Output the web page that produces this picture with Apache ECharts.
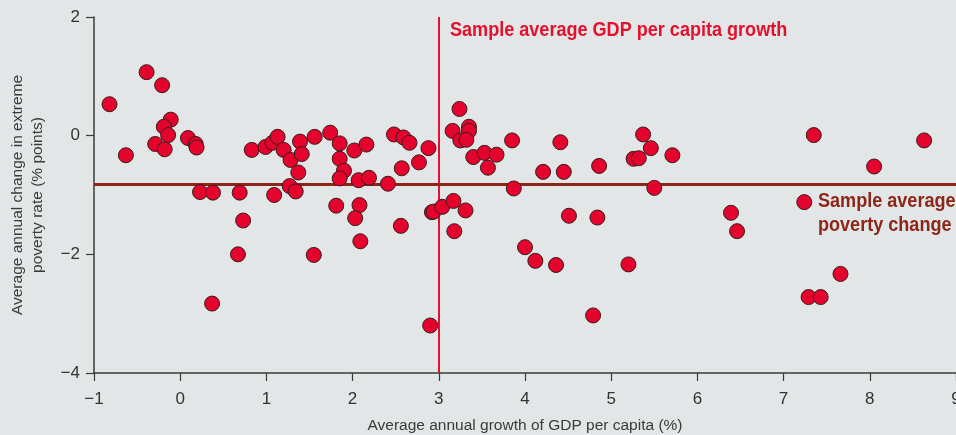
<!DOCTYPE html>
<html>
<head>
<meta charset="utf-8">
<script src="https://cdn.jsdelivr.net/npm/echarts@6/dist/echarts.min.js"></script>
<style>
  html, body { margin: 0; padding: 0; background: #e2e6e7; }
  #chart { width: 956px; height: 435px; }
</style>
</head>
<body>
<div id="chart"></div>
<script>
// Average annual GDP per capita growth (%) for each country episode
const growth = [
  -0.82, -0.63, -0.39, -0.21, -0.11, -0.19, -0.14, -0.29, -0.18, 0.09,
  0.18, 0.19, 0.23, 0.38, 0.69, 0.73, 0.67, 0.37, 0.83, 0.99,
  1.07, 1.13, 1.20, 1.28, 1.39, 1.41, 1.37, 1.27, 1.34, 1.09,
  1.56, 1.55, 1.74, 1.85, 1.85, 1.90, 1.85, 2.02, 2.16, 2.07,
  2.19, 2.41, 1.81, 2.08, 2.03, 2.09, 2.48, 2.59, 2.66, 2.57,
  2.77, 2.88, 2.56, 2.90, 2.92, 2.94, 3.04, 3.17, 3.18, 3.31,
  3.24, 3.16, 3.35, 3.35, 3.25, 3.32, 3.40, 3.53, 3.67, 3.57,
  3.85, 3.87, 4.00, 4.12, 4.36, 4.21, 4.41, 4.45, 4.51, 4.84,
  4.79, 4.86, 5.20, 5.37, 5.46, 5.26, 5.32, 5.71, 5.50, 6.39,
  6.46, 7.35, 8.63, 8.05, 7.24, 7.66, 7.29, 7.43
];

// Average annual change in the extreme poverty rate (% points), same order
const povertyChange = [
  0.53, -0.33, 1.07, 0.85, 0.27, 0.15, 0.01, -0.14, -0.23, -0.04,
  -0.14, -0.20, -0.95, -0.96, -0.96, -1.43, -2.00, -2.83, -0.24, -0.19,
  -0.12, -0.02, -0.24, -0.41, -0.10, -0.31, -0.62, -0.85, -0.94, -1.00,
  -0.02, -2.01, 0.05, -0.13, -0.39, -0.59, -0.72, -0.25, -0.15, -0.75,
  -0.71, -0.81, -1.18, -1.17, -1.39, -1.78, 0.02, -0.03, -0.12, -0.55,
  -0.45, -0.21, -1.52, -3.20, -1.29, -1.28, -1.20, -1.10, -1.61, -1.26,
  0.45, 0.08, 0.15, 0.08, -0.08, -0.07, -0.36, -0.29, -0.32, -0.54,
  -0.08, -0.89, -1.88, -2.11, -2.18, -0.61, -0.11, -0.61, -1.35, -1.38,
  -3.03, -0.51, -2.17, 0.02, -0.21, -0.39, -0.38, -0.33, -0.88, -1.30,
  -1.61, 0.01, -0.08, -0.52, -1.12, -2.33, -2.72, -2.72
];

// Sample averages drawn as reference lines
const avgGrowth = 3.0;
const avgPovertyChange = -0.82;

const xTicks = { min: -1, max: 9, interval: 1 };
const yTicks = { min: -4, max: 2, interval: 2 };

const points = growth.map((g, i) => [g, povertyChange[i]]);

const fmt = v => (v < 0 ? '\u2212' + Math.abs(v) : String(v));
const labelFont = "'Liberation Sans', Arial, sans-serif";
const calloutFont = "'Liberation Sans', Arial, sans-serif";

const chart = echarts.init(document.getElementById('chart'), null, { renderer: 'canvas' });

chart.setOption({
  backgroundColor: '#e2e6e7',
  animation: false,
  grid: { left: 94, right: 0, top: 17, bottom: 62, containLabel: false, outerBoundsMode: 'none' },
  xAxis: {
    type: 'value',
    min: xTicks.min, max: xTicks.max, interval: xTicks.interval,
    name: 'Average annual growth of GDP per capita (%)',
    nameLocation: 'middle',
    nameGap: 45,
    nameTextStyle: { fontFamily: labelFont, fontSize: 15.5, color: '#3a3a3a' },
    axisLine: { show: true, onZero: false, lineStyle: { color: '#3a3a3a', width: 1.5 } },
    axisTick: { show: true, length: 8, lineStyle: { color: '#3a3a3a', width: 1.2 } },
    axisLabel: { formatter: fmt, fontFamily: labelFont, fontSize: 17, color: '#333', margin: 18 },
    splitLine: { show: false }
  },
  yAxis: {
    type: 'value',
    min: yTicks.min, max: yTicks.max, interval: yTicks.interval,
    name: 'Average annual change in extreme\npoverty rate (% points)',
    nameLocation: 'middle',
    nameGap: 46,
    nameTextStyle: { fontFamily: labelFont, fontSize: 15.5, color: '#3a3a3a', lineHeight: 20 },
    axisLine: { show: true, onZero: false, lineStyle: { color: '#3a3a3a', width: 1.5 } },
    axisTick: { show: true, length: 8, lineStyle: { color: '#3a3a3a', width: 1.2 } },
    axisLabel: { formatter: fmt, fontFamily: labelFont, fontSize: 17, color: '#333', margin: 14 },
    splitLine: { show: false }
  },
  series: [
    {
      type: 'scatter',
      data: points,
      symbol: 'circle',
      symbolSize: 15,
      z: 5,
      itemStyle: { color: '#e3032c', borderColor: '#3b1c1c', borderWidth: 1, opacity: 1 },
      markLine: {
        silent: true,
        symbol: 'none',
        z: 3,
        label: { show: false },
        data: [
          { xAxis: avgGrowth, lineStyle: { color: '#e3102e', width: 2, type: 'solid', opacity: 1 } },
          { yAxis: avgPovertyChange, lineStyle: { color: '#8c2619', width: 3, type: 'solid', opacity: 1 } }
        ]
      }
    }
  ],
  graphic: [
    {
      type: 'text', x: 450, y: 20, scaleX: 0.86, z: 10,
      style: {
        text: 'Sample average GDP per capita growth',
        fontFamily: calloutFont, fontWeight: 'bold', fontSize: 21, fill: '#e3102e'
      }
    },
    {
      type: 'text', x: 818, y: 189, scaleX: 0.86, z: 10,
      style: {
        text: 'Sample average\npoverty change',
        fontFamily: calloutFont, fontWeight: 'bold', fontSize: 21, lineHeight: 24, fill: '#8c2619'
      }
    }
  ]
});
</script>
</body>
</html>
